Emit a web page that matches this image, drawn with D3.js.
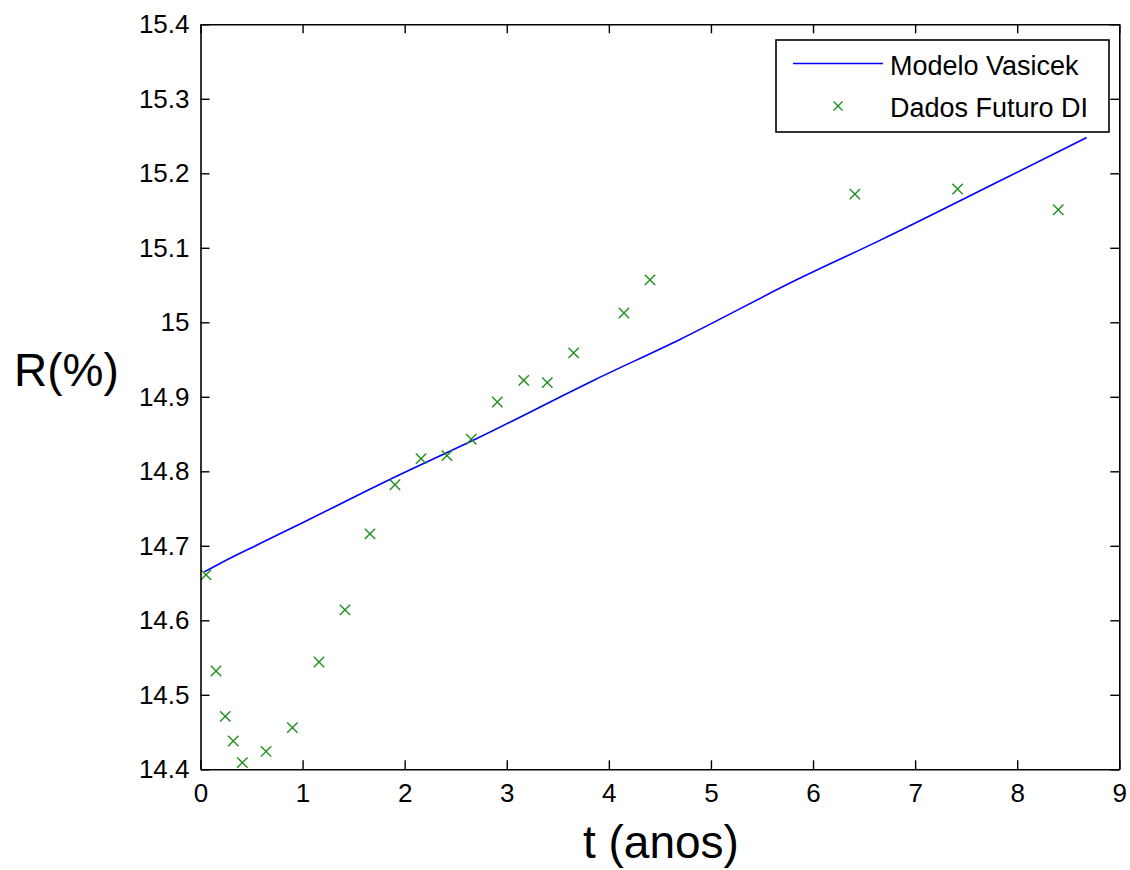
<!DOCTYPE html>
<html>
<head>
<meta charset="utf-8">
<script src="https://cdn.jsdelivr.net/npm/d3@7"></script>
<style>
  html, body { margin: 0; padding: 0; background: #fff; }
  svg { display: block; font-family: "Liberation Sans", Arial, Helvetica, sans-serif; }
</style>
</head>
<body>
<svg id="chart" width="1130" height="870"></svg>
<script>
// Prazo (anos) e taxa observada dos contratos de Futuro DI
const diT = [0.054, 0.152, 0.243, 0.321, 0.41, 0.642, 0.90, 1.161, 1.415, 1.66, 1.905, 2.16,
             2.414, 2.652, 2.907, 3.166, 3.397, 3.655, 4.148, 4.403, 6.41, 7.416, 8.402];
const diR = [14.661, 14.532, 14.471, 14.438, 14.409, 14.424, 14.456, 14.544, 14.614, 14.716, 14.782, 14.817,
             14.821, 14.843, 14.893, 14.922, 14.919, 14.959, 15.0125, 15.057, 15.172, 15.179, 15.151];

// Curva ajustada pelo modelo de Vasicek
const vasT = [0.037, 0.2, 0.583, 1.0, 1.824, 2.737, 3.864, 4.696, 5.839, 6.655, 7.847, 8.68];
const vasR = [14.665, 14.677, 14.703, 14.731, 14.787, 14.846, 14.923, 14.977, 15.057, 15.110, 15.191, 15.248];

// Eixos
const xTicks = [0, 1, 2, 3, 4, 5, 6, 7, 8, 9];
const xTickLabels = ["0", "1", "2", "3", "4", "5", "6", "7", "8", "9"];
const yTicks = [14.4, 14.5, 14.6, 14.7, 14.8, 14.9, 15.0, 15.1, 15.2, 15.3, 15.4];
const yTickLabels = ["14.4", "14.5", "14.6", "14.7", "14.8", "14.9", "15", "15.1", "15.2", "15.3", "15.4"];

const seriesNames = ["Modelo Vasicek", "Dados Futuro DI"];

const svg = d3.select("#chart");
const plotL = 200.5, plotR = 1119.3, plotT = 24.3, plotB = 769.3;

const x = d3.scaleLinear().domain([0, 9]).range([plotL, plotR]);
const y = d3.scaleLinear().domain([14.4, 15.4]).range([plotB, plotT]);

const lineColor = "#0000ff";
const markColor = "#1f8f1f";
const tickLen = 9;

// Curva do modelo
const vasData = vasT.map((t, i) => [t, vasR[i]]);
svg.append("path")
  .datum(vasData)
  .attr("fill", "none")
  .attr("stroke", lineColor)
  .attr("stroke-width", 1.6)
  .attr("d", d3.line().x(d => x(d[0])).y(d => y(d[1])).curve(d3.curveMonotoneX));

// Marcadores "x" dos dados observados
function cross(g, cx, cy, r) {
  g.append("path")
    .attr("d", `M${cx - r},${cy - r}L${cx + r},${cy + r}M${cx - r},${cy + r}L${cx + r},${cy - r}`)
    .attr("stroke", markColor)
    .attr("stroke-width", 1.4)
    .attr("fill", "none");
}
const marks = svg.append("g");
diT.forEach((t, i) => cross(marks, x(t), y(diR[i]), 5.2));

// Eixos com marcas internas em todos os lados
const fontSize = 26;
const axisStyle = g => {
  g.select(".domain").attr("stroke", "#000").attr("stroke-width", 1.6);
  g.selectAll(".tick line").attr("stroke", "#000").attr("stroke-width", 1.4);
  g.selectAll(".tick text").attr("fill", "#000").style("font-size", fontSize + "px")
    .style("font-family", "'Liberation Sans', Arial, sans-serif");
};

svg.append("g")
  .attr("transform", `translate(0,${plotB})`)
  .call(d3.axisBottom(x).tickValues(xTicks).tickFormat((d, i) => xTickLabels[i])
    .tickSizeInner(-tickLen).tickSizeOuter(0).tickPadding(14))
  .call(axisStyle);

svg.append("g")
  .attr("transform", `translate(0,${plotT})`)
  .call(d3.axisTop(x).tickValues(xTicks).tickFormat("")
    .tickSizeInner(-tickLen).tickSizeOuter(0))
  .call(axisStyle);

svg.append("g")
  .attr("transform", `translate(${plotL},0)`)
  .call(d3.axisLeft(y).tickValues(yTicks).tickFormat((d, i) => yTickLabels[i])
    .tickSizeInner(-tickLen).tickSizeOuter(0).tickPadding(11))
  .call(axisStyle);

svg.append("g")
  .attr("transform", `translate(${plotR},0)`)
  .call(d3.axisRight(y).tickValues(yTicks).tickFormat("")
    .tickSizeInner(-tickLen).tickSizeOuter(0))
  .call(axisStyle);

// Títulos dos eixos
svg.append("text")
  .attr("x", (plotL + plotR) / 2 + 1).attr("y", 858)
  .attr("text-anchor", "middle")
  .style("font-size", "46px")
  .text("t (anos)");

svg.append("text")
  .attr("x", 14).attr("y", 386)
  .style("font-size", "46px")
  .text("R(%)");

// Legenda
const leg = svg.append("g");
leg.append("rect")
  .attr("x", 776).attr("y", 40).attr("width", 333).attr("height", 92)
  .attr("fill", "#fff").attr("stroke", "#000").attr("stroke-width", 1.6);
leg.append("line")
  .attr("x1", 793).attr("x2", 883).attr("y1", 63.5).attr("y2", 63.5)
  .attr("stroke", lineColor).attr("stroke-width", 1.6);
cross(leg, 838, 106, 4.5);
leg.selectAll("text.item")
  .data(seriesNames)
  .enter().append("text")
  .attr("class", "item")
  .attr("x", 890)
  .attr("y", (d, i) => 75 + i * 41.5)
  .style("font-size", "27px")
  .text(d => d);
</script>
</body>
</html>
